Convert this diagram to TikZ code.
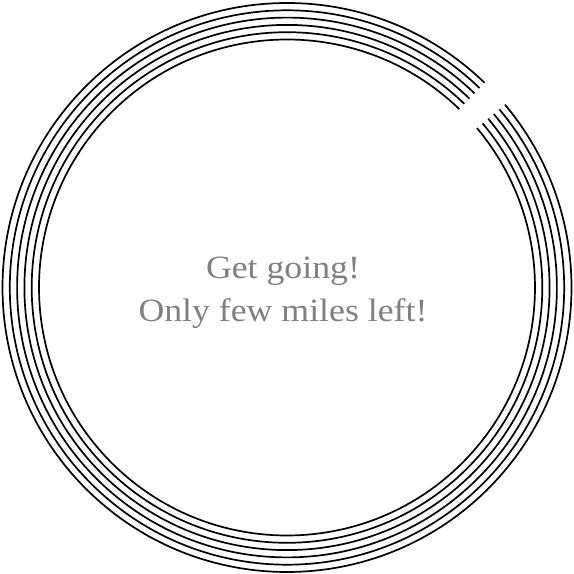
\documentclass[tikz,border=0pt]{standalone}
\usepackage{fontspec}
\setmainfont{Liberation Serif}[FakeStretch=1.1]
\begin{document}
\begin{tikzpicture}[x=1pt,y=1pt,ring/.style={line width=1.7pt,black}]
		\useasboundingbox (0,0) rectangle (574,574);
		\coordinate (c) at (287,286.5);
		\draw[ring] (c) ++(46:248.0) arc[start angle=46,end angle=400,radius=248.0];
		\draw[ring] (c) ++(46:255.3) arc[start angle=46,end angle=400,radius=255.3];
		\draw[ring] (c) ++(46:262.6) arc[start angle=46,end angle=400,radius=262.6];
		\draw[ring] (c) ++(46:269.9) arc[start angle=46,end angle=400,radius=269.9];
		\draw[ring] (c) ++(46:277.2) arc[start angle=46,end angle=400,radius=277.2];
		\draw[ring] (c) ++(46:284.5) arc[start angle=46,end angle=400,radius=284.5];
		\node [align=center,anchor=base,text=black!50,font=\fontsize{32.5}{43.5}\selectfont] (msg) at (283,252) {Get going!\\Only few miles left!};
	\end{tikzpicture}
\end{document}
